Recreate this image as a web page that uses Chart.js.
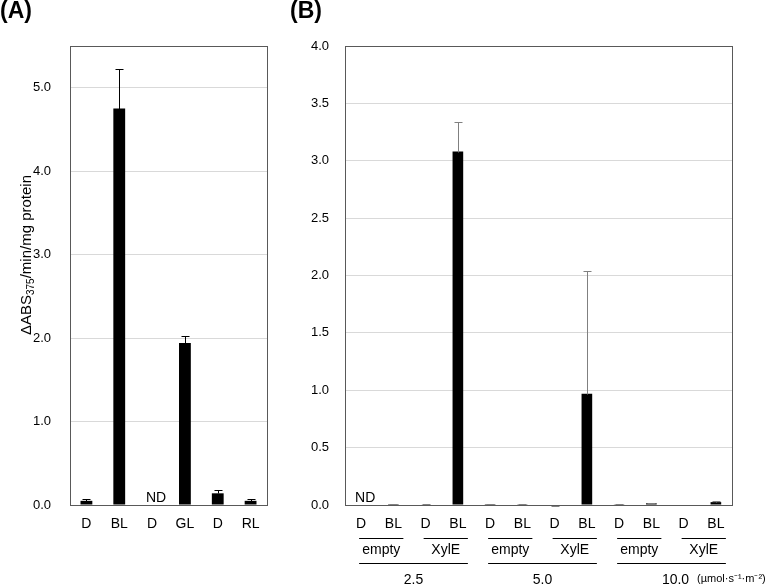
<!DOCTYPE html>
<html>
<head>
<meta charset="utf-8">
<script src="https://cdn.jsdelivr.net/npm/chart.js@4.4.1/dist/chart.umd.min.js"></script>
<style>
  html, body { margin: 0; padding: 0; background: #fff; }
  #wrap { position: relative; width: 767px; height: 587px; }
  canvas { position: absolute; top: 0; }
</style>
</head>
<body>
<div id="wrap">
  <canvas id="chartA" width="290" height="587" style="left:0"></canvas>
  <canvas id="chartB" width="477" height="587" style="left:290px"></canvas>
</div>
<script>
// Panel A: light quality
const labelsA = ['D', 'BL', 'D', 'GL', 'D', 'RL'];
const valuesA = [0.05, 4.75, 0, 1.94, 0.14, 0.05];
const errorsA = [0.02, 0.47, 0, 0.09, 0.035, 0.02];
const ndA = [2];

// Panel B: light intensity x strain
const labelsB = ['D', 'BL', 'D', 'BL', 'D', 'BL', 'D', 'BL', 'D', 'BL', 'D', 'BL'];
const valuesB = [0, 0.008, 0.004, 3.08, 0.008, 0.006, -0.008, 0.97, 0.006, 0.015, -0.004, 0.025];
const errorsB = [0, 0.004, 0.003, 0.255, 0.004, 0.004, 0.003, 1.07, 0.005, 0.005, 0.002, 0.01];
const ndB = [0];
const strainsB = ['empty', 'XylE', 'empty', 'XylE', 'empty', 'XylE'];
const intensitiesB = ['2.5', '5.0', '10.0'];
const unitB = '(\u00b5mol\u00b7s\u207b\u00b9\u00b7m\u207b\u00b2)';

const FONT = '"Liberation Sans", Arial, sans-serif';
Chart.defaults.font.family = FONT;
Chart.defaults.color = '#000';

function drawErrors(chart, errs, color) {
  const ctx = chart.ctx;
  const meta = chart.getDatasetMeta(0);
  const y = chart.scales.y;
  ctx.save();
  ctx.strokeStyle = color;
  ctx.lineWidth = 1;
  meta.data.forEach((bar, i) => {
    if (!errs[i]) return;
    const v = chart.data.datasets[0].data[i];
    const y0 = Math.round(y.getPixelForValue(v)) + 0.5;
    const y1 = Math.round(y.getPixelForValue(v + errs[i])) + 0.5;
    const x = Math.round(bar.x) + 0.5;
    ctx.beginPath();
    ctx.moveTo(x, y0); ctx.lineTo(x, y1);
    ctx.moveTo(x - 4, y1); ctx.lineTo(x + 4, y1);
    ctx.stroke();
  });
  ctx.restore();
}

function drawFrame(chart) {
  const a = chart.chartArea, ctx = chart.ctx;
  ctx.save();
  ctx.strokeStyle = '#595959';
  ctx.lineWidth = 1;
  ctx.strokeRect(Math.round(a.left) + 0.5, Math.round(a.top) + 0.5,
                 Math.round(a.right - a.left), Math.round(a.bottom - a.top));
  ctx.restore();
}

function drawND(chart, idx) {
  const ctx = chart.ctx, x = chart.scales.x, y = chart.scales.y;
  ctx.save();
  ctx.font = '14px ' + FONT;
  ctx.textAlign = 'center';
  ctx.textBaseline = 'middle';
  idx.forEach(i => ctx.fillText('ND', x.getPixelForValue(i) + 4, y.getPixelForValue(0) - 7));
  ctx.restore();
}

function panelLabel(ctx, text) {
  ctx.save();
  ctx.font = 'bold 23px ' + FONT;
  ctx.textAlign = 'left';
  ctx.textBaseline = 'alphabetic';
  ctx.fillText(text, 0, 18);
  ctx.restore();
}

const commonScales = (max, step, tickPad, yWidth) => ({
  x: {
    grid: { display: false, drawTicks: false },
    border: { display: false },
    ticks: { font: { size: 14 }, padding: 11, color: '#000' },
    afterFit: s => { s.height = 82; }
  },
  y: {
    min: 0, max: max,
    grid: { color: '#d9d9d9', drawTicks: false },
    border: { display: false },
    ticks: { stepSize: step, font: { size: 13 }, padding: tickPad, color: '#000',
             callback: v => v.toFixed(1) },
    afterBuildTicks: s => { s.ticks = s.ticks.filter(t => t.value <= max - (max % step)); },
    afterFit: s => { s.width = yWidth; }
  }
});

new Chart(document.getElementById('chartA'), {
  type: 'bar',
  data: {
    labels: labelsA,
    datasets: [{ data: valuesA, backgroundColor: '#000', barPercentage: 0.36, categoryPercentage: 1 }]
  },
  options: {
    responsive: false,
    animation: false,
    layout: { padding: { top: 46, right: 23, left: 0, bottom: 0 } },
    plugins: { legend: { display: false }, tooltip: { enabled: false } },
    scales: commonScales(5.5, 1, 19, 70)
  },
  plugins: [{
    id: 'extrasA',
    afterDatasetsDraw(chart) {
      drawErrors(chart, errorsA, '#000');
      drawND(chart, ndA);
      drawFrame(chart);
      const ctx = chart.ctx;
      panelLabel(ctx, '(A)');
      // y axis title with subscript
      const parts = [['\u0394ABS', 15, 0], ['375', 10, 4], ['/min/mg protein', 15, 0]];
      ctx.save();
      ctx.translate(27, 255);
      ctx.rotate(-Math.PI / 2);
      let total = 0;
      parts.forEach(p => { ctx.font = p[1] + 'px ' + FONT; total += ctx.measureText(p[0]).width; });
      let x = -total / 2;
      ctx.textBaseline = 'middle';
      ctx.textAlign = 'left';
      parts.forEach(p => {
        ctx.font = p[1] + 'px ' + FONT;
        ctx.fillText(p[0], x, p[2]);
        x += ctx.measureText(p[0]).width;
      });
      ctx.restore();
    }
  }]
});

new Chart(document.getElementById('chartB'), {
  type: 'bar',
  data: {
    labels: labelsB,
    datasets: [{ data: valuesB, backgroundColor: '#000', barPercentage: 0.33, categoryPercentage: 1 }]
  },
  options: {
    responsive: false,
    animation: false,
    layout: { padding: { top: 46, right: 35, left: 0, bottom: 0 } },
    plugins: { legend: { display: false }, tooltip: { enabled: false } },
    scales: commonScales(4, 0.5, 16, 55)
  },
  plugins: [{
    id: 'extrasB',
    afterDatasetsDraw(chart) {
      drawErrors(chart, errorsB, '#808080');
      drawND(chart, ndB);
      drawFrame(chart);
      const ctx = chart.ctx, xs = chart.scales.x;
      panelLabel(ctx, '(B)');
      ctx.save();
      ctx.strokeStyle = '#000';
      ctx.lineWidth = 1;
      ctx.font = '14px ' + FONT;
      ctx.textAlign = 'center';
      ctx.textBaseline = 'middle';
      strainsB.forEach((s, g) => {
        const x0 = xs.getPixelForValue(g * 2) - 2, x1 = xs.getPixelForValue(g * 2 + 1) + 10;
        ctx.beginPath(); ctx.moveTo(x0, 538.5); ctx.lineTo(x1, 538.5); ctx.stroke();
        ctx.fillText(s, (x0 + x1) / 2, 550);
      });
      intensitiesB.forEach((s, g) => {
        const x0 = xs.getPixelForValue(g * 4) - 2, x1 = xs.getPixelForValue(g * 4 + 3) + 10;
        ctx.beginPath(); ctx.moveTo(x0, 563.5); ctx.lineTo(x1, 563.5); ctx.stroke();
        ctx.fillText(s, (x0 + x1) / 2 + (g === 2 ? 4 : 0), 580);
      });
      ctx.font = '11px ' + FONT;
      ctx.textAlign = 'left';
      ctx.fillText(unitB, 407, 579);
      ctx.restore();
    }
  }]
});
</script>
</body>
</html>
